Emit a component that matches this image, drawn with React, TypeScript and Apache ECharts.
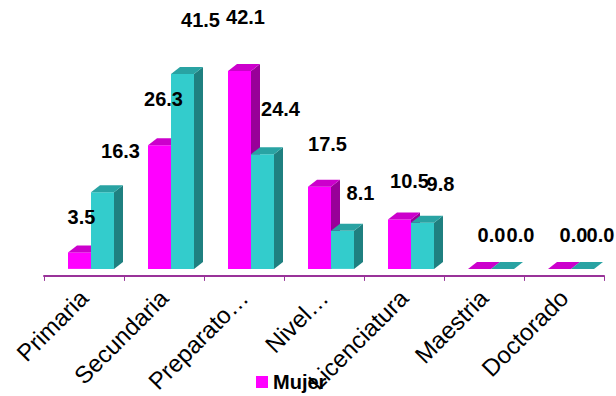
import React, { useEffect, useRef } from "react";
import * as echarts from "echarts";

const categories = ["Primaria", "Secundaria", "Preparato…", "Nivel…", "Licenciatura", "Maestria", "Doctorado"];
const mujer = [3.5, 26.3, 42.1, 17.5, 10.5, 0.0, 0.0];
const hombre = [16.3, 41.5, 24.4, 8.1, 9.8, 0.0, 0.0];

const FONT = "'Liberation Sans', Arial, sans-serif";

const palettes = [
  { front: "#FF00FF", top: "#CC00CC", side: "#990099", labelDx: 2, labelSlope: 2 },
  { front: "#33CCCC", top: "#29A3A3", side: "#1F8080", labelDx: 18, labelSlope: 0 },
];

const DX = 9;
const DY = 7;
const SHIFT_X = 7;
const SHIFT_Y = 7;

function geom(seriesIdx: number, api: any) {
  const cat = api.value(0);
  const v = api.value(1);
  const base = api.coord([cat, 0]);
  const top = api.coord([cat, v]);
  const band = api.size([1, 0])[0];
  const w = band * 0.2875;
  const cx = base[0] + SHIFT_X;
  const left = seriesIdx === 0 ? cx - w : cx;
  const bottomY = base[1] - SHIFT_Y;
  const topY = top[1] - SHIFT_Y;
  const labelY = api.coord([cat, v * 1.1])[1] - SHIFT_Y - 34;
  return { cat, v, w, left, bottomY, topY, labelY };
}

function makeBars(seriesIdx: number) {
  const pal = palettes[seriesIdx];
  return (params: any, api: any) => {
    const { w, left, bottomY, topY } = geom(seriesIdx, api);
    const children: any[] = [];
    if (bottomY - topY > 0.5) {
      children.push({
        type: "rect",
        shape: { x: left, y: topY, width: w, height: bottomY - topY },
        style: { fill: pal.front },
      });
    }
    children.push({
      type: "polygon",
      shape: {
        points: [
          [left + w, topY],
          [left + w + DX, topY - DY],
          [left + w + DX, bottomY - DY],
          [left + w, bottomY],
        ],
      },
      style: { fill: pal.side },
    });
    children.push({
      type: "polygon",
      shape: {
        points: [
          [left, topY],
          [left + DX, topY - DY],
          [left + w + DX, topY - DY],
          [left + w, topY],
        ],
      },
      style: { fill: pal.top },
    });
    return { type: "group", children };
  };
}

function makeLabels(seriesIdx: number) {
  const pal = palettes[seriesIdx];
  return (params: any, api: any) => {
    const { cat, v, w, left, labelY } = geom(seriesIdx, api);
    return {
      type: "text",
      style: {
        x: left + w / 2 + pal.labelDx + pal.labelSlope * cat,
        y: labelY,
        text: Number(v).toFixed(1),
        fill: "#000",
        font: `bold 20px ${FONT}`,
        align: "center",
        verticalAlign: "middle",
      },
    };
  };
}

export default function App() {
  const ref = useRef<HTMLDivElement>(null);
  useEffect(() => {
    if (!ref.current) return;
    const chart = echarts.init(ref.current, null, { renderer: "svg" });
    chart.setOption({
      animation: false,
      grid: { left: 44, right: 12, top: 41, bottom: 120 },
      legend: {
        data: [{ name: "Mujer", icon: "rect" }],
        left: 251,
        top: 367,
        itemWidth: 12,
        itemHeight: 12,
        itemGap: 6,
        textStyle: { fontFamily: FONT, fontWeight: "bold", fontSize: 20, color: "#000" },
      },
      xAxis: {
        type: "category",
        data: categories,
        axisLine: { lineStyle: { color: "#993399", width: 2 } },
        axisTick: { show: true, length: 5, lineStyle: { color: "#993399", width: 1 } },
        axisLabel: {
          rotate: 45,
          interval: 0,
          margin: 18,
          fontFamily: FONT,
          fontSize: 24,
          color: "#000",
        },
      },
      yAxis: { type: "value", min: 0, max: 50, show: false, splitLine: { show: false } },
      series: [
        {
          name: "Mujer",
          type: "custom",
          renderItem: makeBars(0),
          itemStyle: { color: "#FF00FF" },
          data: mujer.map((v, i) => [i, v]),
          z: 2,
        },
        {
          name: "Hombre",
          type: "custom",
          renderItem: makeBars(1),
          itemStyle: { color: "#33CCCC" },
          data: hombre.map((v, i) => [i, v]),
          z: 3,
        },
        {
          name: "MujerLabels",
          type: "custom",
          renderItem: makeLabels(0),
          data: mujer.map((v, i) => [i, v]),
          z: 10,
        },
        {
          name: "HombreLabels",
          type: "custom",
          renderItem: makeLabels(1),
          data: hombre.map((v, i) => [i, v]),
          z: 10,
        },
      ],
    });
    return () => chart.dispose();
  }, []);
  return (
    <div
      ref={ref}
      style={{ position: "absolute", left: 0, top: 0, width: 616, height: 396 }}
    />
  );
}
